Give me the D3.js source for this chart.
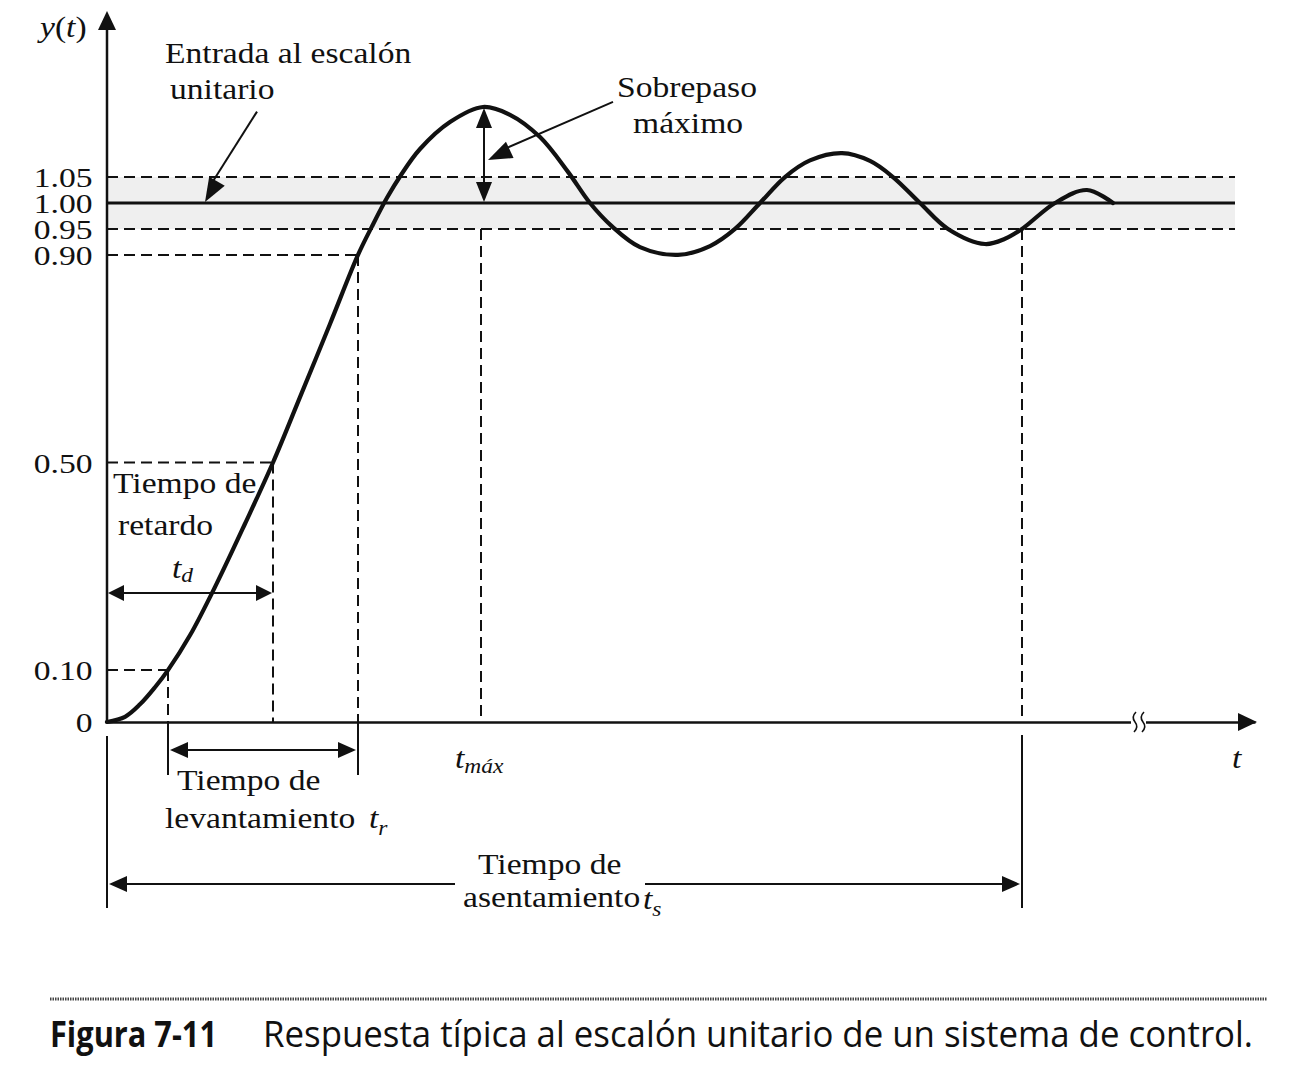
<!DOCTYPE html>
<html>
<head>
<meta charset="utf-8">
<script src="https://cdn.jsdelivr.net/npm/d3@7"></script>
<style>
  html, body { margin: 0; padding: 0; background: #fff; }
  svg { display: block; }
</style>
</head>
<body>
<svg id="chart" width="1291" height="1087"></svg>
<script>
// ---------- data ----------
const curveT = [0, 0.18, 0.33, 0.48, 0.61, 0.83, 1.10, 1.38, 1.66, 1.93, 2.23, 2.51, 2.65, 2.80, 2.94, 3.13, 3.43, 3.76, 4.03, 4.33, 4.61, 4.83, 5.05, 5.33, 5.71, 6.03, 6.28, 6.53, 6.78, 7.03, 7.35, 7.63, 7.86, 8.13, 8.41, 8.78, 8.98, 9.15, 9.48, 9.80, 10.06];
const curveY = [0, 0.010, 0.034, 0.067, 0.10, 0.167, 0.268, 0.382, 0.50, 0.626, 0.767, 0.90, 0.955, 1.010, 1.054, 1.104, 1.156, 1.185, 1.170, 1.127, 1.060, 1.00, 0.955, 0.915, 0.90, 0.917, 0.95, 1.00, 1.05, 1.082, 1.096, 1.081, 1.05, 1.00, 0.95, 0.921, 0.931, 0.95, 1.00, 1.025, 1.00];
const yTicks = [0, 0.10, 0.50, 0.90, 0.95, 1.00, 1.05];
const yTickLabels = ["0", "0.10", "0.50", "0.90", "0.95", "1.00", "1.05"];
const tDelay = 1.66;          // t at y = 0.5
const tRise = [0.61, 2.51];   // t at y = 0.1 and y = 0.9
const tPeak = 3.76;
const yPeak = 1.185;
const tSettle = 9.15;
const bandLimits = [0.95, 1.05];
const stepLevel = 1.0;
const tEnd = 11.28;           // right end of reference lines
const tAxisEnd = 11.48;
const tBreak = 10.31;
const yAxisTop = 1.37;

// ---------- scales ----------
const x = d3.scaleLinear().domain([0, tAxisEnd]).range([107, 1255]);
const y = d3.scaleLinear().domain([0, 1]).range([722, 203]);

const svg = d3.select("#chart");
const INK = "#111";
const SERIF = "'Liberation Serif', 'Times New Roman', serif";
const SX = 1.12;

function head(g, tipX, tipY, fromX, fromY, len, hw) {
  const dx = tipX - fromX, dy = tipY - fromY;
  const L = Math.hypot(dx, dy);
  const ux = dx / L, uy = dy / L;
  const bx = tipX - ux * len, by = tipY - uy * len;
  const px = -uy * hw, py = ux * hw;
  g.append("polygon")
    .attr("points", `${tipX},${tipY} ${bx + px},${by + py} ${bx - px},${by - py}`)
    .attr("fill", INK);
}
function line(g, x1, y1, x2, y2, w, dash) {
  const l = g.append("line").attr("x1", x1).attr("y1", y1).attr("x2", x2).attr("y2", y2)
    .attr("stroke", INK).attr("stroke-width", w);
  if (dash) l.attr("stroke-dasharray", dash);
  return l;
}
function txt(px, py, s, size) {
  return svg.append("text")
    .attr("transform", `translate(${px},${py}) scale(${SX},1)`)
    .attr("font-family", SERIF).attr("font-size", size || 30).attr("fill", INK)
    .text(s);
}
function tsub(px, py, sub, dy) {
  const t = svg.append("text")
    .attr("transform", `translate(${px},${py}) scale(${SX},1)`)
    .attr("font-family", SERIF).attr("font-size", 30).attr("fill", INK);
  t.append("tspan").attr("font-style", "italic").text("t");
  t.append("tspan").attr("font-style", "italic").attr("font-size", 21).attr("dy", dy || 7).text(sub);
  return t;
}

const g = svg.append("g");

// shaded tolerance band
g.append("rect")
  .attr("x", x(0)).attr("width", x(tEnd) - x(0))
  .attr("y", y(bandLimits[1])).attr("height", y(bandLimits[0]) - y(bandLimits[1]))
  .attr("fill", "#efefef");

const DASH = "11,6";
// horizontal dashed reference lines
bandLimits.forEach(v => line(g, x(0), y(v), x(tEnd), y(v), 2, DASH));
line(g, x(0), y(0.10), x(tRise[0]), y(0.10), 2, DASH);
line(g, x(0), y(0.50), x(tDelay), y(0.50), 2, DASH);
line(g, x(0), y(0.90), x(tRise[1]), y(0.90), 2, DASH);
// unit step input
line(g, x(0), y(stepLevel), x(tEnd), y(stepLevel), 2.8);

// vertical dashed lines
line(g, x(tRise[0]), y(0.10), x(tRise[0]), y(0), 2, DASH);
line(g, x(tDelay), y(0.50), x(tDelay), y(0), 2, DASH);
line(g, x(tRise[1]), y(0.90), x(tRise[1]), y(0), 2, DASH);
line(g, x(tPeak) - 2, y(bandLimits[0]), x(tPeak) - 2, y(0), 2, DASH);
line(g, x(tSettle), y(bandLimits[0]), x(tSettle), y(0), 2, DASH);

// response curve
const pts = curveT.map((t, i) => [t, curveY[i]]);
g.append("path").datum(pts)
  .attr("d", d3.line().x(d => x(d[0])).y(d => y(d[1])).curve(d3.curveCatmullRom.alpha(0.5)))
  .attr("fill", "none").attr("stroke", INK).attr("stroke-width", 4.2)
  .attr("stroke-linejoin", "round").attr("stroke-linecap", "round");

// x axis
const xAxis = svg.append("g").attr("transform", `translate(0,${y(0)})`)
  .call(d3.axisBottom(x).tickValues([]).tickSizeOuter(0));
xAxis.select(".domain").attr("stroke", INK).attr("stroke-width", 2.5);
head(svg, x(tAxisEnd) + 2, y(0), x(0), y(0), 19, 9);
// axis break
const bx = x(tBreak);
svg.append("rect").attr("x", bx - 7).attr("y", y(0) - 5).attr("width", 15).attr("height", 10).attr("fill", "#fff");
[bx - 4, bx + 4].forEach(cx => {
  svg.append("path")
    .attr("d", `M${cx + 2},${y(0) - 10} q-5,5 -1,10 q4,5 -1,10`)
    .attr("fill", "none").attr("stroke", INK).attr("stroke-width", 1.6);
});

// y axis
const yAxis = svg.append("g").attr("transform", `translate(${x(0)},0)`)
  .call(d3.axisLeft(y).tickValues(yTicks).tickFormat((d, i) => yTickLabels[i]).tickSize(0).tickPadding(12));
yAxis.select(".domain").remove();
yAxis.selectAll("text")
  .attr("font-family", SERIF).attr("font-size", 28).attr("fill", INK)
  .attr("dy", "0.34em")
  .attr("transform", `scale(1.2,1)`);
line(svg, x(0), y(0) + 1, x(0), y(yAxisTop) + 10, 2.5);
head(svg, x(0), y(yAxisTop), x(0), y(0), 19, 9);

// y(t) label
const yl = svg.append("text")
  .attr("transform", `translate(40,37) scale(${SX},1)`)
  .attr("font-family", SERIF).attr("font-size", 30).attr("fill", INK);
yl.append("tspan").attr("font-style", "italic").text("y");
yl.append("tspan").text("(");
yl.append("tspan").attr("font-style", "italic").text("t");
yl.append("tspan").text(")");

// annotations: unit step input
txt(165, 63, "Entrada al escalón");
txt(170, 99, "unitario");
line(svg, x(1.50), y(1.176), x(1.02), y(1.03), 2);
head(svg, x(0.98), y(1.0) - 1, x(1.50), y(1.176), 24, 9);

// overshoot
txt(617, 97, "Sobrepaso");
txt(633, 133, "máximo");
line(svg, x(tPeak) + 1, y(yPeak) + 10, x(tPeak) + 1, y(stepLevel) - 10, 2);
head(svg, x(tPeak) + 1, y(yPeak) + 1, x(tPeak) + 1, y(stepLevel), 20, 8);
head(svg, x(tPeak) + 1, y(stepLevel) - 1, x(tPeak) + 1, y(yPeak), 20, 8);
line(svg, x(5.06), y(1.195), x(3.95), y(1.102), 2);
head(svg, x(3.81), y(1.083), x(5.06), y(1.195), 24, 9);

// delay time
txt(113, 493, "Tiempo de");
txt(118, 535, "retardo");
tsub(172, 578, "d", 4);
const yd = 593;
line(svg, x(0) + 10, yd, x(tDelay) - 10, yd, 2);
head(svg, x(0) + 1, yd, x(tDelay), yd, 16, 8);
head(svg, x(tDelay) - 1, yd, x(0), yd, 16, 8);

// rise time
const yr = 750;
line(svg, x(tRise[0]), y(0), x(tRise[0]), 775, 2);
line(svg, x(tRise[1]), y(0), x(tRise[1]), 775, 2);
line(svg, x(tRise[0]) + 10, yr, x(tRise[1]) - 10, yr, 2);
head(svg, x(tRise[0]) + 2, yr, x(tRise[1]), yr, 18, 8);
head(svg, x(tRise[1]) - 2, yr, x(tRise[0]), yr, 18, 8);
txt(177, 790, "Tiempo de");
txt(165, 828, "levantamiento");
tsub(369, 828, "r", 7);

// t_max and t labels
tsub(455, 768, "máx", 5);
const tl = txt(1232, 768, "");
tl.append("tspan").attr("font-style", "italic").text("t");

// settling time
const ys = 884;
line(svg, x(0), 736, x(0), 908, 2);
line(svg, x(tSettle), 735, x(tSettle), 908, 2);
line(svg, x(0) + 10, ys, 455, ys, 2);
line(svg, 645, ys, x(tSettle) - 10, ys, 2);
head(svg, x(0) + 2, ys, x(tSettle), ys, 18, 8);
head(svg, x(tSettle) - 2, ys, x(0), ys, 18, 8);
txt(478, 874, "Tiempo de");
txt(463, 907, "asentamiento");
tsub(643, 909, "s", 7);

// caption
svg.append("line").attr("x1", 50).attr("x2", 1267).attr("y1", 999).attr("y2", 999)
  .attr("stroke", "#444").attr("stroke-width", 3).attr("stroke-dasharray", "1.5,1");
svg.append("text").attr("x", 50).attr("y", 1047)
  .attr("font-family", "'Open Sans', 'Noto Sans', sans-serif").attr("font-weight", "bold")
  .attr("font-size", 36).attr("fill", INK)
  .attr("textLength", 167).attr("lengthAdjust", "spacingAndGlyphs")
  .text("Figura 7-11");
svg.append("text").attr("x", 263).attr("y", 1047)
  .attr("font-family", "'Open Sans', 'Noto Sans', sans-serif")
  .attr("font-size", 36).attr("fill", INK)
  .attr("textLength", 990).attr("lengthAdjust", "spacingAndGlyphs")
  .text("Respuesta típica al escalón unitario de un sistema de control.");
</script>
</body>
</html>
